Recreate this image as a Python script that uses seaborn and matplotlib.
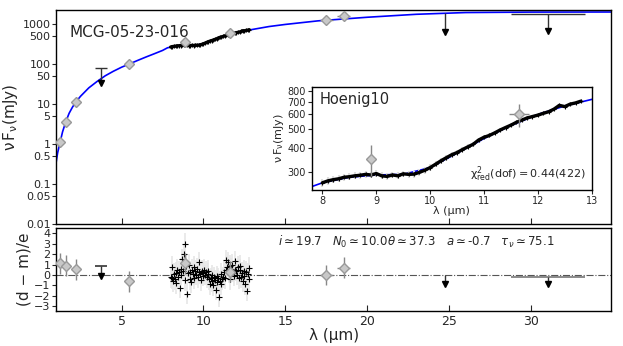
import numpy as np
import matplotlib
matplotlib.use("Agg")
import matplotlib.pyplot as plt
import seaborn as sns

sns.set_style("ticks")
plt.rcParams['font.family'] = ['DejaVu Sans']
plt.rcParams['mathtext.fontset'] = 'dejavusans'

# modelo (curva azul)
wl_model = [1.0, 1.1, 1.25, 1.4, 1.6, 1.8, 2.0, 2.2, 2.5, 3.0, 3.5, 4.0, 4.5, 5.0,
            5.5, 6.0, 6.5, 7.0, 7.5, 7.8, 8.0, 8.5, 9.0, 9.5, 10.0, 10.5, 11.0,
            11.5, 12.0, 12.5, 13.0, 14.0, 15.0, 17.0, 20.0, 23.0, 26.0, 30.0, 35.0]
flux_model = [0.33, 0.6, 1.1, 2.0, 3.6, 5.8, 8.2, 11, 15.5, 25, 36, 50, 65, 82,
              100, 122, 148, 178, 215, 250, 262, 280, 288, 290, 315, 375, 448,
              525, 600, 665, 720, 850, 960, 1180, 1450, 1720, 1900, 1950, 1960]

# espectro (Hoenig10)
spec_flux = [262, 268, 272, 275, 280, 282, 285, 287, 290, 288,
             293, 285, 283, 288, 285, 292, 290, 291, 297, 305,
             315, 328, 342, 355, 368, 378, 392, 405, 418, 440,
             455, 465, 480, 497, 512, 527, 545, 560, 575, 585,
             595, 608, 620, 640, 670, 660, 680, 690, 705]
wl_spec = np.linspace(8.0, 12.8, len(spec_flux))

# fotometria
wl_phot = [1.25, 1.6, 2.2, 5.45, 8.9, 11.65, 17.5, 18.55]
flux_phot = [1.1, 3.5, 11, 100, 350, 600, 1260, 1590]
flux_phot_err = [0.1, 0.3, 1, 10, 65, 85, 60, 80]
wl_phot_err = [0.0, 0.0, 0.0, 0.0, 0.0, 0.19, 0.4, 0.37]
res_phot = [1.1, 0.9, 0.55, -0.6, 1.1, 0.3, 0.0, 0.7]

# limites superiores
wl_lim = [3.75, 24.75, 31.05]
flux_lim = [80, 1880, 1750]
flux_lim_tip = [33, 620, 640]
wl_lim_half = [0.35, 0.0, 2.25]
res_lim = [0.9, 0.0, -0.2]
res_lim_tip = [-0.05, -0.85, -0.9]

# residuos do espectro
res_spec = [-0.2, 0.8, -0.3, -0.6, 0.1, -0.4, 0.2, -0.8, 0.5, -0.2,
            0.3, -1.2, 0.6, 0.0, 1.5, 0.4, 2.0, -0.5, 3.0, 0.9,
            -1.8, 0.2, 1.0, -0.4, 0.3, -0.7, 0.5, 0.1, 0.8, -0.3,
            0.4, 0.0, 0.6, -0.2, 0.3, 1.2, 0.1, -0.5, 0.4, 0.2,
            -0.1, 0.5, 0.0, 0.3, -0.2, 0.1, 0.4, -0.4, -0.9, -0.3,
            -0.6, 0.0, -1.0, -0.2, -0.5, -1.4, -0.1, -0.7, -0.3, -2.1,
            -0.6, 0.1, -0.9, -0.4, -0.2, 0.3, -0.3, 0.5, 1.4, 0.8,
            1.2, 0.2, 0.9, -0.4, 0.6, 1.0, 0.3, -0.1, 0.5, 1.3,
            0.4, 0.0, 0.8, -0.3, 0.5, 0.9, -0.2, 0.2, -0.6, 0.4,
            -0.1, -0.9, 0.3, -1.5, 0.1, -0.4, 0.7]
wl_res = np.linspace(8.0, 12.8, len(res_spec))

yticks_top = [0.01, 0.05, 0.1, 0.5, 1, 5, 10, 50, 100, 500, 1000]
ytick_labels_top = ['0.01', '0.05', '0.1', '0.5', '1', '5', '10', '50', '100', '500', '1000']

BLUE = '#0000ff'
DFACE = '#c8c8c8'
DEDGE = '#999999'
YLAB = r'$\mathrm{ν\,F_{ν}(mJy)}$'

fig = plt.figure(figsize=(6.23, 3.46), dpi=100)
ax = fig.add_axes([0.0899, 0.3526, 0.8915, 0.6185])
axr = fig.add_axes([0.0899, 0.1012, 0.8915, 0.2398])
axi = fig.add_axes([0.5003, 0.4509, 0.4494, 0.2985])


def desenha_sed(a, xmin):
    m = [i for i, w in enumerate(wl_model) if w >= xmin]
    sns.lineplot(x=[wl_model[i] for i in m], y=[flux_model[i] for i in m],
                 color=BLUE, lw=1.2, ax=a, zorder=2, sort=False)
    a.errorbar(wl_spec, spec_flux, yerr=12, fmt='none', ecolor='#dddddd',
               elinewidth=1.5, zorder=3)
    a.plot(wl_spec, spec_flux, color='black', lw=2.4, zorder=4)
    sns.scatterplot(x=wl_spec, y=spec_flux, marker='+', color='black', s=12,
                    linewidth=0.8, ax=a, zorder=5)
    a.errorbar(wl_phot, flux_phot, yerr=flux_phot_err, xerr=wl_phot_err,
               fmt='D', ms=5, mfc=DFACE, mec=DEDGE, ecolor='#888888',
               elinewidth=1.0, capsize=0, zorder=6)


# painel principal
desenha_sed(ax, 0)
for w, f, t, h in zip(wl_lim, flux_lim, flux_lim_tip, wl_lim_half):
    if h > 0:
        ax.hlines(f, w - h, w + h, color='#333333', lw=1.0, zorder=6)
    ax.vlines(w, t * 1.15, f, color='#333333', lw=1.0, zorder=6)
    ax.plot([w], [t], marker='v', color='black', ms=5, zorder=7)
ax.set_yscale('log')
ax.set_xlim(1.0, 34.9)
ax.set_ylim(0.01, 2200)
ax.set_yticks(yticks_top)
ax.set_yticklabels(ytick_labels_top)
ax.yaxis.set_minor_locator(matplotlib.ticker.NullLocator())
ax.set_xticks([5, 10, 15, 20, 25, 30])
ax.tick_params(axis='x', direction='in', labelbottom=False, length=4)
ax.tick_params(axis='y', labelsize=8, length=3, pad=1)
ax.set_ylabel(YLAB, fontsize=11, labelpad=2)
ax.text(0.025, 0.93, 'MCG-05-23-016', transform=ax.transAxes, fontsize=11,
        va='top', ha='left')

# inset
desenha_sed(axi, 7.5)
axi.set_yscale('log')
axi.set_xlim(7.8, 13.0)
axi.set_ylim(240, 840)
axi.set_yticks([300, 400, 500, 600, 700, 800])
axi.set_yticklabels(['300', '400', '500', '600', '700', '800'])
axi.yaxis.set_minor_locator(matplotlib.ticker.NullLocator())
axi.set_xticks([8, 9, 10, 11, 12, 13])
axi.tick_params(labelsize=7, length=3, pad=1)
axi.set_xlabel('λ (μm)', fontsize=8, labelpad=0)
axi.set_ylabel(YLAB, fontsize=8, labelpad=1)
axi.text(0.03, 0.95, 'Hoenig10', transform=axi.transAxes, fontsize=10.5,
         va='top', ha='left')
axi.text(0.98, 0.06, r'$\mathrm{χ^2_{red}(dof) = 0.44(422)}$',
         transform=axi.transAxes, fontsize=8, va='bottom', ha='right')

# residuos
axr.axhline(0, color='#555555', lw=0.8, ls='-.', zorder=1)
axr.errorbar(wl_res, res_spec, yerr=1.0, fmt='none', ecolor='#e6e6e6',
             elinewidth=1.2, zorder=2)
sns.scatterplot(x=wl_res, y=res_spec, marker='+', color='black', s=14,
                linewidth=0.8, ax=axr, zorder=4)
axr.errorbar(wl_phot, res_phot, yerr=1.0, xerr=wl_phot_err, fmt='D', ms=5,
             mfc=DFACE, mec=DEDGE, ecolor='#888888', elinewidth=1.0, zorder=5)
for w, r, t, h in zip(wl_lim, res_lim, res_lim_tip, wl_lim_half):
    c = '#333333' if w < 10 else '#777777'
    if h > 0:
        axr.hlines(r, w - h, w + h, color=c, lw=1.2, zorder=6)
    axr.vlines(w, t, r, color='#333333', lw=1.0, zorder=6)
    axr.plot([w], [t], marker='v', color='black', ms=5, zorder=7)
axr.set_xlim(1.0, 34.9)
axr.set_ylim(-3.45, 4.5)
axr.set_yticks([-3, -2, -1, 0, 1, 2, 3, 4])
axr.set_xticks([5, 10, 15, 20, 25, 30])
axr.tick_params(axis='x', direction='in', labelsize=9, length=4, pad=3)
axr.tick_params(axis='y', labelsize=8, length=3, pad=1)
axr.set_ylabel('(d − m)/e', fontsize=11, labelpad=2)
axr.set_xlabel('λ (μm)', fontsize=11, labelpad=0)
axr.text(0.40, 0.93,
         r'$i \simeq 19.7$   $N_0 \simeq 10.0\theta \simeq 37.3$   $a \simeq$-0.7   $\tau_{\nu} \simeq 75.1$',
         transform=axr.transAxes, fontsize=8.5, va='top', ha='left')

for a in (ax, axr, axi):
    for s in a.spines.values():
        s.set_color('black')
        s.set_linewidth(1.0)

fig.savefig('out.png', dpi=100)
